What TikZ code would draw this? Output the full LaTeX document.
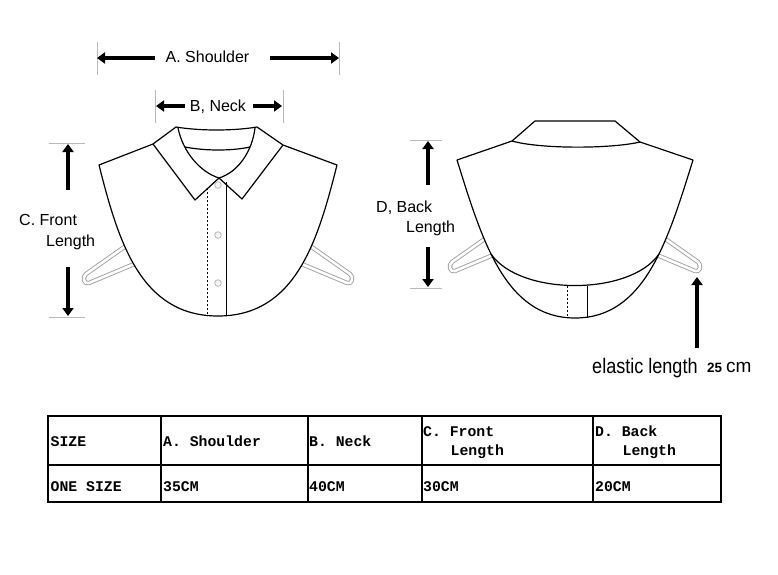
\documentclass[tikz,border=0pt]{standalone}
\usepackage{fontspec}
\setmainfont{Liberation Sans}
\newfontfamily\tabfont{Liberation Mono}
\usetikzlibrary{arrows.meta}
\tikzset{
  dimarrow/.style={line width=4pt,-{Triangle[length=8pt,width=11pt]}},
  dimtick/.style={gray!55,line width=0.9pt},
  outline/.style={line width=1.2pt,line join=round},
  strap/.style={draw=gray!75,double=white,double distance=2.6pt,line width=0.9pt,line join=round},
  button/.style={draw=gray!55,fill=gray!8,line width=0.8pt},
  lbl/.style={font=\fontsize{16}{16}\selectfont,inner sep=0pt},
  cell/.style={font=\tabfont\bfseries\fontsize{14.8}{15}\selectfont,inner sep=0pt,anchor=base west},
}
\begin{document}
\begin{tikzpicture}[x=1pt,y=-1pt]
\useasboundingbox (0,0) rectangle (778,574);

\begin{scope}[shift={(82,279)}]
\draw[strap] (48,-36) -- (4,-5) .. controls (0,-2) and (2,6) .. (7,4) -- (57,-17);
\end{scope}
\begin{scope}[shift={(354,279)},xscale=-1]
\draw[strap] (48,-36) -- (4,-5) .. controls (0,-2) and (2,6) .. (7,4) -- (57,-17);
\end{scope}
\draw[outline,fill=white] (99,165) -- (153,144) -- (176,127) .. controls (200,131) and (233,131) .. (257,127) -- (283,145) -- (337,165)
  .. controls (318,240) and (296,316) .. (218,316) .. controls (140,316) and (118,240) .. (99,165) -- cycle;
\draw[outline] (153,144) -- (195,200) -- (219,178) -- (242,199) -- (283,145);
\draw[outline] (178,128) .. controls (183,152) and (200,172) .. (219,178) .. controls (238,172) and (252,152) .. (255,128);
\draw[outline] (185,147) .. controls (205,151) and (232,151) .. (250,147);
\draw[line width=1pt,dash pattern=on 2pt off 2pt] (207,188) -- (207,316);
\draw[line width=1pt] (226,182) -- (226,316);
\foreach \y in {185,235,283}
  \draw[button] (218,\y) circle (3.3pt);

\begin{scope}[shift={(448,267)}]
\draw[strap] (48,-36) -- (4,-5) .. controls (0,-2) and (2,6) .. (7,4) -- (57,-17);
\end{scope}
\begin{scope}[shift={(702,267)},xscale=-1]
\draw[strap] (48,-36) -- (4,-5) .. controls (0,-2) and (2,6) .. (7,4) -- (57,-17);
\end{scope}
\draw[outline,fill=white] (457,160) -- (512,141) -- (535,121) -- (615,121) -- (640,142) -- (693,160)
  .. controls (668,240) and (645,318) .. (575,318) coordinate[pos=0.42] (br)
  .. controls (505,318) and (482,240) .. (457,160) coordinate[pos=0.58] (bl) -- cycle;
\draw[outline] (512,141) .. controls (540,149) and (610,149) .. (640,142);
\draw[outline] (bl) .. controls (520,296) and (630,296) .. (br);
\draw[line width=1pt,dash pattern=on 2pt off 2pt] (567,286) -- (567,318);
\draw[line width=1pt] (587,286) -- (587,318);

\node[lbl,anchor=base] (shoulder) at (207.5,62) {A. Shoulder};
\coordinate (shLa) at (155,58);
\coordinate (shL) at (97,58);
\coordinate (shRa) at (270,58);
\coordinate (shR) at (339,58);
\draw[dimtick] (97,42) -- (97,75);
\draw[dimtick] (339,42) -- (339,75);
\draw[dimarrow] (shLa) -- (shL);
\draw[dimarrow] (shRa) -- (shR);

\node[lbl,anchor=base] (neck) at (218,111.7) {B, Neck};
\coordinate (nkLa) at (185,106);
\coordinate (nkL) at (156,106);
\coordinate (nkRa) at (253,106);
\coordinate (nkR) at (282,106);
\draw[dimtick] (155,90) -- (155,123);
\draw[dimtick] (283,90) -- (283,123);
\draw[dimarrow] (nkLa) -- (nkL);
\draw[dimarrow] (nkRa) -- (nkR);

\node[lbl,anchor=base west] (front) at (19,225) {C. Front};
\node[lbl,anchor=base west] (frontlen) at (46,246.7) {Length};
\coordinate (frTa) at (68,190);
\coordinate (frT) at (68,144);
\coordinate (frBa) at (68,267);
\coordinate (frB) at (68,316);
\draw[dimtick] (49,143) -- (85,143);
\draw[dimtick] (49,317) -- (85,317);
\draw[dimarrow] (frTa) -- (frT);
\draw[dimarrow] (frBa) -- (frB);

\node[lbl,anchor=base west] (back) at (376,212.7) {D, Back};
\node[lbl,anchor=base west] (backlen) at (406,232.7) {Length};
\coordinate (bkTa) at (428,185);
\coordinate (bkT) at (428,141);
\coordinate (bkBa) at (428,247);
\coordinate (bkB) at (428,287);
\draw[dimtick] (410,140) -- (442,140);
\draw[dimtick] (410,288) -- (442,288);
\draw[dimarrow] (bkTa) -- (bkT);
\draw[dimarrow] (bkBa) -- (bkB);

\node[inner sep=0pt,anchor=base west] (elastic) at (592,373)
  {\scalebox{0.86}[1]{\fontsize{21}{21}\selectfont elastic length}};
\node[inner sep=0pt,anchor=base west] (elasticcm) at (707,372)
  {\fontsize{13.5}{13.5}\selectfont\bfseries 25\hspace{4pt}\mdseries\fontsize{19}{19}\selectfont cm};
\coordinate (elA) at (697,348);
\coordinate (elT) at (697,277);
\draw[dimarrow] (elA) -- (elT);

\draw[line width=1.2pt] (48,416) rectangle (721,502);
\draw[line width=1.2pt] (48,465) -- (721,465);
\foreach \x in {161,308,422,593}
  \draw[line width=1.2pt] (\x,416) -- (\x,502);
\node[cell] (size) at (50.5,446.7) {SIZE};
\node[cell] (hshoulder) at (163,446.7) {A. Shoulder};
\node[cell] (hneck) at (309,446.7) {B. Neck};
\node[cell] (hfront) at (423,436.7) {C. Front};
\node[cell] (hfrontlen) at (450.5,455) {Length};
\node[cell] (hback) at (595,436.7) {D. Back};
\node[cell] (hbacklen) at (622.5,455) {Length};
\node[cell] (onesize) at (50.5,491) {ONE SIZE};
\node[cell] (vshoulder) at (163,491) {35CM};
\node[cell] (vneck) at (309,491) {40CM};
\node[cell] (vfront) at (423,491) {30CM};
\node[cell] (vback) at (595,491) {20CM};
\end{tikzpicture}
\end{document}
